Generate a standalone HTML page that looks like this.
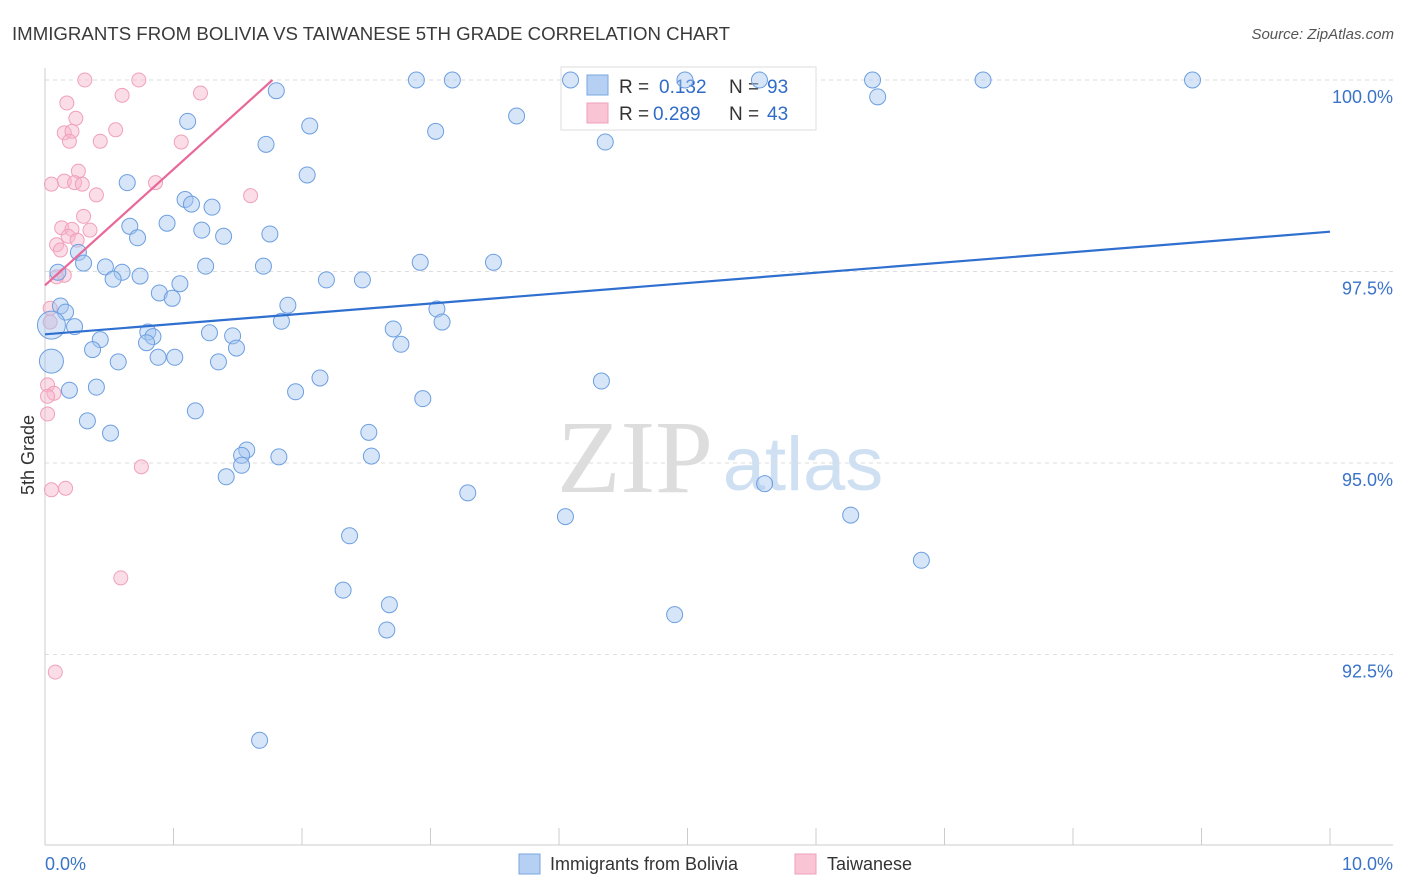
<!DOCTYPE html>
<html><head><meta charset="utf-8">
<style>
body{margin:0;background:#fff;font-family:"Liberation Sans",sans-serif;}
svg{display:block}
</style></head>
<body>
<svg id="chart" width="1406" height="892" viewBox="0 0 1406 892" xmlns="http://www.w3.org/2000/svg">
<text x="12" y="40" font-size="18" fill="#3a3a3a" textLength="718" lengthAdjust="spacingAndGlyphs">IMMIGRANTS FROM BOLIVIA VS TAIWANESE 5TH GRADE CORRELATION CHART</text>
<text x="1394" y="39" font-size="15" fill="#555" font-style="italic" text-anchor="end">Source: ZipAtlas.com</text>
<text transform="translate(34,455) rotate(-90)" font-size="18" fill="#333" text-anchor="middle">5th Grade</text>
<g>
<text x="635" y="492" font-size="104" fill="#ddd" font-family="Liberation Serif,serif" text-anchor="middle">ZIP</text>
<text x="803" y="490" font-size="76" fill="#cfe0f3" text-anchor="middle">atlas</text>
</g>
<g id="grid"></g>
<g id="axes"></g>
<g>
<rect x="561" y="67" width="255" height="63" fill="#fff" stroke="#ddd"/>
<rect x="587" y="75" width="21" height="20" fill="#b5d0f3" stroke="#7aa7e0"/>
<text x="619" y="93" font-size="19" fill="#333">R =</text>
<text x="659" y="93" font-size="19" fill="#2f6cc8">0.132</text>
<text x="729" y="93" font-size="19" fill="#333">N =</text>
<text x="767" y="93" font-size="19" fill="#2f6cc8">93</text>
<rect x="587" y="103" width="21" height="20" fill="#f9c4d4" stroke="#f0a0bb"/>
<text x="619" y="120" font-size="19" fill="#333">R =</text>
<text x="653" y="120" font-size="19" fill="#2f6cc8">0.289</text>
<text x="729" y="120" font-size="19" fill="#333">N =</text>
<text x="767" y="120" font-size="19" fill="#2f6cc8">43</text>
</g>
<g id="marks"></g>
<g>
<rect x="519" y="854" width="21" height="20" fill="#b5d0f3" stroke="#7aa7e0"/>
<text x="550" y="870" font-size="18" fill="#333">Immigrants from Bolivia</text>
<rect x="795" y="854" width="21" height="20" fill="#f9c4d4" stroke="#f0a0bb"/>
<text x="827" y="870" font-size="18" fill="#333">Taiwanese</text>
</g>
</svg>
<script>
const yTicks=[100,97.5,95,92.5];
const yTickLabels=["100.0%","97.5%","95.0%","92.5%"];
const xLabels=["0.0%","10.0%"];
const blueX=[4.09,4.98,5.56,2.89,3.17,6.44,7.30,8.93,6.48,1.80,3.67,1.11,2.06,3.04,4.36,1.72,2.04,0.64,1.09,1.14,1.30,0.95,0.66,1.22,1.39,1.75,0.72,0.26,0.30,0.47,0.60,0.53,0.74,1.25,1.70,2.92,3.49,2.19,2.47,1.05,0.89,0.99,0.10,1.89,0.12,0.16,3.05,1.84,3.09,0.23,0.05,0.80,0.84,1.46,1.28,2.71,0.43,0.79,2.77,0.37,1.49,0.88,1.01,0.57,1.35,0.05,2.14,4.33,0.40,0.19,1.95,2.94,1.17,0.33,0.51,2.52,1.57,1.53,2.54,1.82,1.53,1.41,5.60,3.29,4.05,6.27,2.37,6.82,2.32,2.68,4.90,2.66,1.67];
const blueY=[100,100,100,100,100,100,100,100,99.78,99.86,99.53,99.46,99.40,99.33,99.19,99.16,98.76,98.66,98.44,98.38,98.34,98.13,98.09,98.04,97.96,97.99,97.94,97.75,97.61,97.56,97.49,97.40,97.44,97.57,97.57,97.62,97.62,97.39,97.39,97.34,97.22,97.15,97.49,97.06,97.05,96.97,97.01,96.85,96.84,96.78,96.80,96.71,96.65,96.66,96.70,96.75,96.61,96.57,96.55,96.48,96.50,96.38,96.38,96.32,96.32,96.33,96.11,96.07,95.99,95.95,95.93,95.84,95.68,95.55,95.39,95.40,95.17,95.10,95.09,95.08,94.97,94.82,94.73,94.61,94.30,94.32,94.05,93.73,93.34,93.15,93.02,92.82,91.38];
const blueSize=[8,8,8,8,8,8,8,8,8,8,8,8,8,8,8,8,8,8,8,8,8,8,8,8,8,8,8,8,8,8,8,8,8,8,8,8,8,8,8,8,8,8,8,8,8,8,8,8,8,8,14,8,8,8,8,8,8,8,8,8,8,8,8,8,8,12,8,8,8,8,8,8,8,8,8,8,8,8,8,8,8,8,8,8,8,8,8,8,8,8,8,8,8];
const pinkX=[0.31,0.73,0.60,1.21,0.17,0.24,0.55,0.15,0.21,0.19,0.43,1.06,0.26,0.05,0.15,0.23,0.29,0.86,0.40,1.60,0.30,0.13,0.21,0.35,0.18,0.25,0.09,0.12,0.15,0.09,0.04,0.04,0.02,0.07,0.02,0.02,0.75,0.16,0.05,0.59,0.08];
const pinkY=[100,100,99.80,99.83,99.70,99.50,99.35,99.31,99.33,99.20,99.20,99.19,98.81,98.64,98.68,98.66,98.64,98.66,98.50,98.49,98.22,98.07,98.05,98.04,97.96,97.91,97.85,97.78,97.45,97.43,97.02,96.84,96.02,95.91,95.87,95.64,94.95,94.67,94.65,93.50,92.27];
const blueLine=[[0,96.68],[10,98.02]];
const pinkLine=[[0,97.32],[1.77,100]];
const NS="http://www.w3.org/2000/svg";
const xs=v=>45+v*128.5;
const ys=v=>80+(100-v)*76.6;
function mk(tag,attrs,parent){const e=document.createElementNS(NS,tag);for(const k in attrs)e.setAttribute(k,attrs[k]);parent.appendChild(e);return e;}
const grid=document.getElementById('grid'),axes=document.getElementById('axes'),marks=document.getElementById('marks');
yTicks.forEach((t,i)=>{
 const l=mk('line',{x1:45,x2:1393,y1:ys(t),y2:ys(t),stroke:'#ddd','stroke-dasharray':'4,4'},grid);
 
 
 const tx=mk('text',{x:1393,y:ys(t)+23,'font-size':18,fill:'#3a73c8','text-anchor':'end'},axes);
 tx.textContent=yTickLabels[i];
 
 
});
const ax=mk('line',{x1:45,x2:45,y1:68,y2:845,stroke:'#ccc'},axes);


const bx=mk('line',{x1:45,x2:1393,y1:845,y2:845,stroke:'#ccc'},axes);


for(let i=0;i<=10;i++){
 const t=mk('line',{x1:xs(i),x2:xs(i),y1:828,y2:845,stroke:'#ccc'},axes);
 
 
}
const xl0=mk('text',{x:45,y:870,'font-size':18,fill:'#3a73c8'},axes);xl0.textContent=xLabels[0];


const xl1=mk('text',{x:1393,y:870,'font-size':18,fill:'#3a73c8','text-anchor':'end'},axes);xl1.textContent=xLabels[1];


pinkX.forEach((x,i)=>{
 const c=mk('circle',{cx:xs(x),cy:ys(pinkY[i]),r:7,fill:'rgba(246,180,202,0.45)',stroke:'#f0a0bb','stroke-width':1},marks);
 
 
});
blueX.forEach((x,i)=>{
 const c=mk('circle',{cx:xs(x),cy:ys(blueY[i]),r:blueSize[i],fill:'rgba(165,198,240,0.45)',stroke:'#6d9fe0','stroke-width':1},marks);
 
 
});
const bl=mk('line',{x1:xs(blueLine[0][0]),y1:ys(blueLine[0][1]),x2:xs(blueLine[1][0]),y2:ys(blueLine[1][1]),stroke:'#2f6fd0','stroke-width':2.2},marks);


const pl=mk('line',{x1:xs(pinkLine[0][0]),y1:ys(pinkLine[0][1]),x2:xs(pinkLine[1][0]),y2:ys(pinkLine[1][1]),stroke:'#e8689a','stroke-width':2.2},marks);


</script>
</body></html>
